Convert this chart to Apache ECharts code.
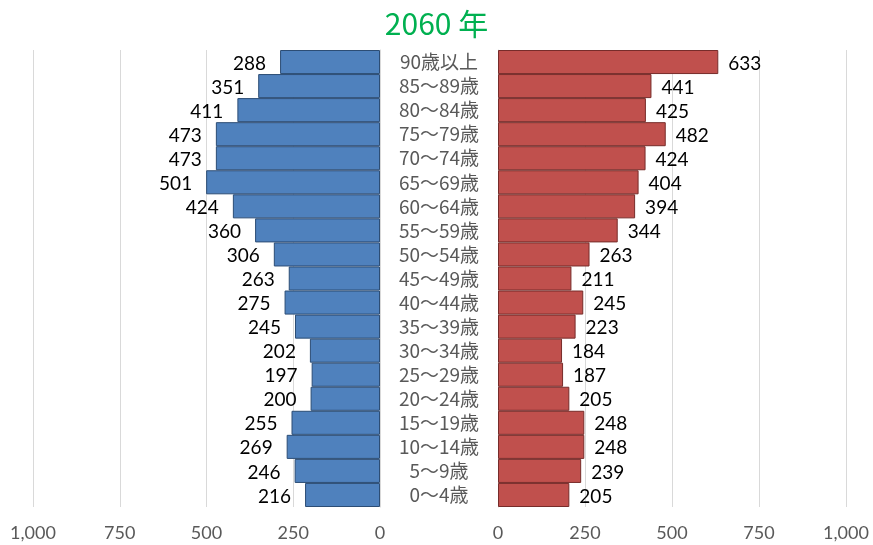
<!DOCTYPE html>
<html><head><meta charset="utf-8">
<script src="https://cdn.jsdelivr.net/npm/echarts@6/dist/echarts.min.js"></script>
<style>html,body{margin:0;padding:0;background:#fff}#c{width:873px;height:545px}</style>
</head><body><div id="c"></div>
<script>
const categories = ['90歳以上','85～89歳','80～84歳','75～79歳','70～74歳','65～69歳','60～64歳','55～59歳','50～54歳','45～49歳','40～44歳','35～39歳','30～34歳','25～29歳','20～24歳','15～19歳','10～14歳','5～9歳','0～4歳'];
const male = [288,351,411,473,473,501,424,360,306,263,275,245,202,197,200,255,269,246,216];
const female = [633,441,425,482,424,404,394,344,263,211,245,223,184,187,205,248,248,239,205];
const titleText = '2060 年';

const chart = echarts.init(document.getElementById('c'));
const numFont = 'Lato, "Noto Sans", sans-serif';
const fmt = v => v.toLocaleString('en-US');
const xCommon = {
  type: 'value', min: 0, max: 1000, interval: 250,
  axisLine: {show: false}, axisTick: {show: false},
  splitLine: {show: true, lineStyle: {color: '#d9d9d9', width: 1}},
  axisLabel: {formatter: fmt, color: '#595959', fontSize: 18, fontFamily: numFont, margin: 17}
};
chart.setOption({
  animation: false,
  title: {text: titleText, left: 'center', top: 4, textStyle: {color: '#00b050', fontSize: 30, fontWeight: 'normal', fontFamily: '"Noto Sans CJK JP", sans-serif'}, },
  grid: [
    {left: 33, right: 493, top: 50, bottom: 38},
    {left: 498, right: 27, top: 50, bottom: 38}
  ],
  xAxis: [
    Object.assign({gridIndex: 0, inverse: true}, xCommon),
    Object.assign({gridIndex: 1}, xCommon)
  ],
  yAxis: [
    {type: 'category', gridIndex: 0, data: categories, inverse: true, position: 'right',
     axisLine: {show: true, lineStyle: {color: '#d9d9d9'}}, axisTick: {show: false}, axisLabel: {show: false}},
    {type: 'category', gridIndex: 1, data: categories, inverse: true, position: 'left',
     axisLine: {show: true, lineStyle: {color: '#d9d9d9'}}, axisTick: {show: false},
     axisLabel: {show: true, interval: 0, align: 'center', margin: 59, lineHeight: 20, color: '#595959', fontSize: 19, fontFamily: '"Noto Sans CJK JP", sans-serif'}}
  ],
  series: [
    {type: 'bar', xAxisIndex: 0, yAxisIndex: 0, data: male, barCategoryGap: '0%',
     itemStyle: {color: '#4f81bd', borderColor: '#2c4d75', borderWidth: 1},
     label: {show: true, position: 'left', distance: 14, offset: [0, 1.5], color: '#000', fontSize: 19, fontFamily: numFont}},
    {type: 'bar', xAxisIndex: 1, yAxisIndex: 1, data: female, barCategoryGap: '0%',
     itemStyle: {color: '#c0504d', borderColor: '#772c2a', borderWidth: 1},
     label: {show: true, position: 'right', distance: 10, offset: [0, 1.5], color: '#000', fontSize: 19, fontFamily: numFont}}
  ]
});
</script></body></html>
